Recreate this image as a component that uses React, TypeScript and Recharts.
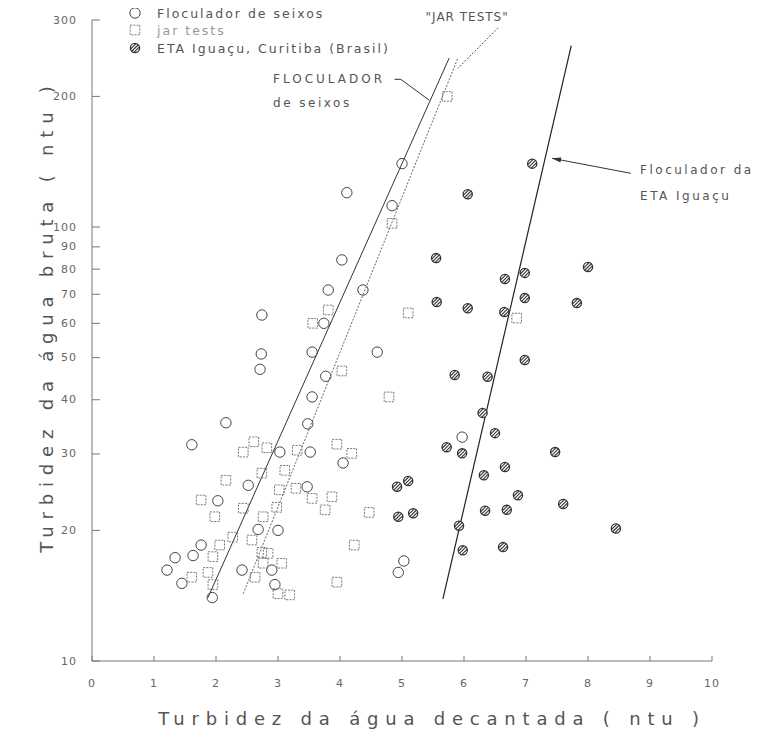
import React from 'react';
import {
  ScatterChart,
  Scatter,
  XAxis,
  YAxis,
  ReferenceLine,
  ReferenceDot,
  Legend,
  Label,
} from 'recharts';

// ---------- data ----------
const xTicks = [0, 1, 2, 3, 4, 5, 6, 7, 8, 9, 10];
const yTicks = [10, 20, 30, 40, 50, 60, 70, 80, 90, 100, 200, 300];

const seriesNames = ['Floculador de seixos', 'jar tests', 'ETA Iguaçu, Curitiba (Brasil)'];

const seixosPoints: [number, number][] = [
  [4.11, 120], [5.0, 140], [4.84, 112], [4.03, 84], [3.81, 71.6], [4.37, 71.6],
  [2.74, 62.7], [3.74, 60], [2.73, 51], [2.71, 47], [3.55, 51.5], [4.6, 51.5],
  [3.77, 45.3], [3.55, 40.6], [3.48, 35.2], [2.16, 35.4],
  [1.61, 31.5], [3.03, 30.3], [3.52, 30.3], [4.05, 28.6], [2.52, 25.4], [3.47, 25.2],
  [2.03, 23.4], [2.68, 20.1], [3.0, 20.0], [1.76, 18.5], [1.34, 17.3], [1.63, 17.5],
  [1.21, 16.2], [1.45, 15.1], [2.42, 16.2], [2.9, 16.2], [2.95, 15.0], [1.94, 14.0],
  [5.97, 32.8], [5.03, 17.0], [4.94, 16.0],
];

const jarPoints: [number, number][] = [
  [5.73, 200], [4.84, 102], [3.81, 64.4], [3.56, 60], [5.1, 63.4], [4.03, 46.6],
  [4.79, 40.6], [6.85, 61.7],
  [2.61, 32.0], [2.44, 30.3], [2.82, 31.0], [3.31, 30.6], [3.95, 31.6], [4.19, 30.1],
  [2.74, 27.1], [3.11, 27.5], [2.16, 26.1], [3.02, 24.8], [3.29, 25.0], [3.55, 23.7],
  [3.76, 22.3], [3.87, 23.9], [4.47, 22.0], [1.76, 23.5], [1.98, 21.5], [2.44, 22.5],
  [2.98, 22.6], [2.76, 21.5], [2.27, 19.3], [2.58, 19.0], [2.06, 18.5], [1.95, 17.4],
  [2.74, 17.8], [2.84, 17.7], [1.87, 16.0], [1.61, 15.6], [2.63, 15.6], [3.06, 16.8],
  [2.76, 16.8], [3.19, 14.2], [3.0, 14.3], [1.95, 15.0], [4.23, 18.5], [3.95, 15.2],
];

const etaPoints: [number, number][] = [
  [7.1, 140], [6.06, 119], [5.55, 84.8], [6.66, 75.9], [6.98, 78.4], [8.0, 80.9],
  [5.56, 67.2], [6.06, 65], [6.65, 63.7], [6.98, 68.6], [7.82, 66.8], [6.98, 49.4],
  [5.85, 45.6], [6.38, 45.2], [6.3, 37.3], [6.5, 33.5], [7.47, 30.3], [5.72, 31.1],
  [5.97, 30.1], [6.66, 28.0], [6.32, 26.8], [6.87, 24.1], [7.6, 23.0], [6.34, 22.2],
  [6.69, 22.3], [8.45, 20.2], [5.92, 20.5], [5.98, 18.0], [6.63, 18.3], [4.92, 25.2],
  [5.1, 26.0], [4.94, 21.5], [5.18, 21.9],
];

const seixosLine: [number, number][] = [[1.87, 14.0], [5.76, 245]];
const jarLine: [number, number][] = [[2.44, 14.3], [5.9, 245]];
const etaLine: [number, number][] = [[5.66, 13.9], [7.73, 262]];

// annotation leaders (data coordinates)
const floculadorLeader: [number, number][] = [[4.88, 219], [4.98, 219], [5.44, 196]];
const jarLeader: [number, number][] = [[6.55, 288], [5.9, 232]];
const etaLeader: [number, number][] = [[8.69, 133], [7.42, 144]];

const annotations = [
  { x: 2.92, y: 219, text: 'FLOCULADOR', spacing: 3 },
  { x: 2.92, y: 193, text: 'de seixos', spacing: 2.5 },
  { x: 5.38, y: 305, text: '"JAR TESTS"', spacing: 1 },
  { x: 8.84, y: 135, text: 'Floculador da', spacing: 2.5 },
  { x: 8.84, y: 118, text: 'ETA  Iguaçu', spacing: 2.5 },
];

const toXY = (arr: [number, number][]) => arr.map(([x, y]) => ({ x, y }));

// ---------- styling ----------
const FONT = '"DejaVu Sans", sans-serif';
const TEXT = '#555';

function OpenCircle(props: any) {
  const { cx, cy } = props;
  if (cx == null || cy == null) return <g />;
  return <circle cx={cx} cy={cy} r={5.2} fill="none" stroke="#444" strokeWidth={1} />;
}

function OpenSquare(props: any) {
  const { cx, cy } = props;
  if (cx == null || cy == null) return <g />;
  return (
    <rect x={cx - 4.8} y={cy - 4.8} width={9.6} height={9.6} fill="none" stroke="#777"
      strokeWidth={1} strokeDasharray="2 1.2" />
  );
}

function HatchCircle(props: any) {
  const { cx, cy } = props;
  if (cx == null || cy == null) return <g />;
  const r = 4.6;
  const lines = [-2.4, 0, 2.4].map((d, i) => {
    const h = Math.sqrt(r * r - d * d);
    const nx = d / Math.SQRT2;
    const ny = d / Math.SQRT2;
    const ux = h / Math.SQRT2;
    const uy = -h / Math.SQRT2;
    return (
      <line key={i} x1={cx + nx - ux} y1={cy + ny - uy} x2={cx + nx + ux} y2={cy + ny + uy}
        stroke="#333" strokeWidth={1.1} />
    );
  });
  return (
    <g>
      <circle cx={cx} cy={cy} r={r} fill="#fff" stroke="#333" strokeWidth={1.3} />
      {lines}
    </g>
  );
}

function XTick(props: any) {
  const { x, y, payload } = props;
  return (
    <g>
      <line x1={x} y1={y} x2={x} y2={y - 5} stroke="#777" />
      <text x={x} y={y + 22} textAnchor="middle" dominantBaseline="central" fontFamily={FONT}
        fontSize={11} fill="#666" letterSpacing={1}>
        {payload.value}
      </text>
    </g>
  );
}

function YTick(props: any) {
  const { x, y, payload } = props;
  return (
    <g>
      <line x1={x} y1={y} x2={x + 8} y2={y} stroke="#777" />
      <text x={x - 15} y={y} textAnchor="end" dominantBaseline="central" fontFamily={FONT}
        fontSize={11} fill="#666" letterSpacing={1}>
        {payload.value}
      </text>
    </g>
  );
}

function AnnText(text: string, spacing: number) {
  return (props: any) => (
    <text x={props.cx} y={props.cy} textAnchor="start" dominantBaseline="central"
      fontFamily={FONT} fontSize={12} fill={TEXT} letterSpacing={spacing}>
      {text}
    </text>
  );
}

function ArrowLine(props: any) {
  const { x1, y1, x2, y2 } = props;
  const ang = Math.atan2(y2 - y1, x2 - x1);
  const L = 9;
  const W = 2.5;
  const bx = x2 - L * Math.cos(ang);
  const by = y2 - L * Math.sin(ang);
  const px = -Math.sin(ang) * W;
  const py = Math.cos(ang) * W;
  return (
    <g>
      <line x1={x1} y1={y1} x2={x2} y2={y2} stroke="#333" strokeWidth={1} />
      <polygon points={`${x2},${y2} ${bx + px},${by + py} ${bx - px},${by - py}`} fill="#333" />
    </g>
  );
}

function LegendContent() {
  const rows = [5, 22, 40];
  return (
    <svg width={330} height={50} style={{ overflow: 'visible' }}>
      {seriesNames.map((name, i) => {
        const cy = rows[i];
        let icon = null;
        if (i === 0) icon = <OpenCircle cx={10} cy={cy} />;
        else if (i === 1) icon = <OpenSquare cx={10} cy={cy} />;
        else icon = <HatchCircle cx={10} cy={cy} />;
        return (
          <g key={i}>
            {icon}
            <text x={32} y={cy} dominantBaseline="central" fontFamily={FONT} fontSize={12.5}
              fill={i === 1 ? '#999' : TEXT} letterSpacing={2}>
              {name}
            </text>
          </g>
        );
      })}
    </svg>
  );
}

export default function App() {
  return (
    <ScatterChart width={761} height={725} margin={{ top: 12, right: 57, bottom: 22, left: 24 }}>
      <XAxis type="number" dataKey="x" domain={[0, 10]} ticks={xTicks} interval={0}
        allowDataOverflow height={50} tickSize={0} tickMargin={0} tick={<XTick />}
        axisLine={{ stroke: '#777' }}>
        <Label content={(p: any) => {
          const vb = p.viewBox || {};
          return (
            <text x={vb.x + vb.width / 2 + 30} y={vb.y + 57} textAnchor="middle"
              dominantBaseline="central" fontFamily={FONT} fontSize={18} fill={TEXT}
              letterSpacing={6.8}>
              Turbidez da água decantada ( ntu )
            </text>
          );
        }} />
      </XAxis>
      <YAxis type="number" dataKey="y" scale="log" domain={[10, 300]} ticks={yTicks}
        interval={0} allowDataOverflow width={60} tickSize={0} tickMargin={0}
        tick={<YTick />} axisLine={{ stroke: '#777' }}>
        <Label content={(p: any) => {
          const vb = p.viewBox || {};
          const cx = vb.x + 14;
          const cy = 308;
          return (
            <text x={cx} y={cy} textAnchor="middle" dominantBaseline="central"
              transform={`rotate(-90 ${cx} ${cy})`} fontFamily={FONT} fontSize={18}
              fill={TEXT} letterSpacing={6.8}>
              Turbidez da água bruta ( ntu )
            </text>
          );
        }} />
      </YAxis>

      <Legend layout="vertical" align="center" verticalAlign="middle"
        wrapperStyle={{ top: 0, left: 117, width: 330, height: 50 }}
        content={<LegendContent />} />

      <ReferenceLine segment={toXY(seixosLine) as any} stroke="#333" strokeWidth={1}
        ifOverflow="visible" />
      <ReferenceLine segment={toXY(jarLine) as any} stroke="#666" strokeWidth={1}
        strokeDasharray="2 1.5" ifOverflow="visible" />
      <ReferenceLine segment={toXY(etaLine) as any} stroke="#222" strokeWidth={1.2}
        ifOverflow="visible" />

      <ReferenceLine segment={toXY(floculadorLeader.slice(0, 2)) as any} stroke="#333"
        ifOverflow="visible" />
      <ReferenceLine segment={toXY(floculadorLeader.slice(1, 3)) as any} stroke="#333"
        ifOverflow="visible" />
      <ReferenceLine segment={toXY(jarLeader) as any} stroke="#555" strokeDasharray="2 1.5"
        ifOverflow="visible" />
      <ReferenceLine segment={toXY(etaLeader) as any} ifOverflow="visible"
        shape={(p: any) => <ArrowLine {...p} />} />

      {annotations.map((a, i) => (
        <ReferenceDot key={i} x={a.x} y={a.y} r={0} ifOverflow="visible"
          shape={AnnText(a.text, a.spacing)} />
      ))}

      <Scatter name={seriesNames[0]} data={toXY(seixosPoints)} shape={<OpenCircle />}
        isAnimationActive={false} />
      <Scatter name={seriesNames[1]} data={toXY(jarPoints)} shape={<OpenSquare />}
        isAnimationActive={false} />
      <Scatter name={seriesNames[2]} data={toXY(etaPoints)}
        shape={<HatchCircle />} isAnimationActive={false} />
    </ScatterChart>
  );
}
